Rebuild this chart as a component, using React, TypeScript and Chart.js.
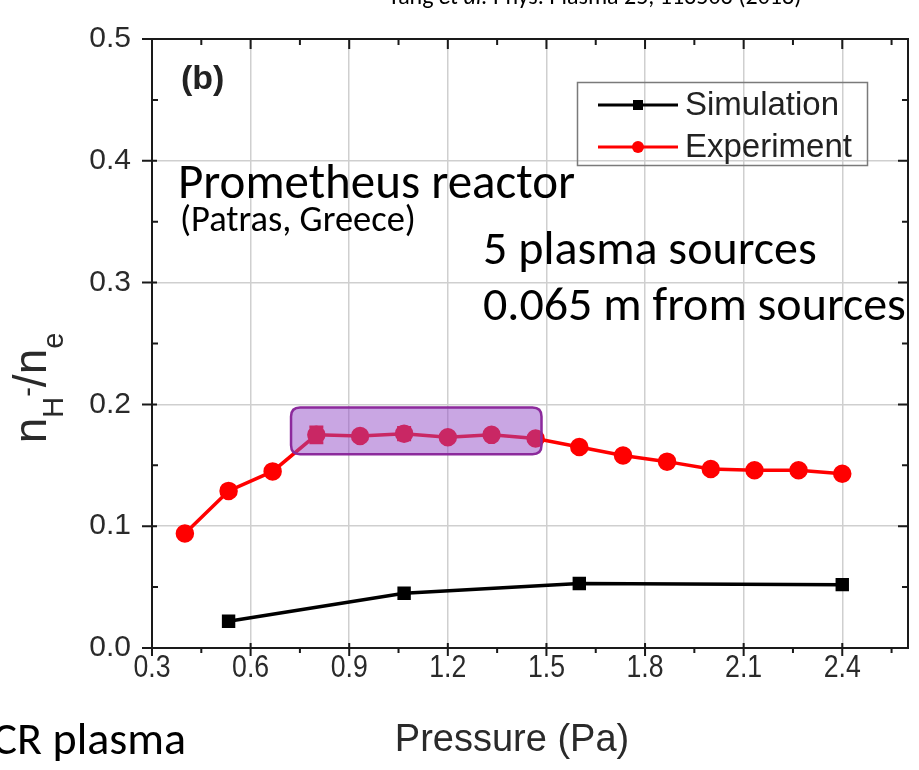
import React, { useEffect, useRef } from "react";
import { Chart, registerables } from "chart.js";

Chart.register(...registerables);

// Pressure (Pa) and n_H-/n_e values
const simPressure = [0.533, 1.067, 1.6, 2.4];
const simRatio = [0.022, 0.045, 0.053, 0.052];

const expPressure = [0.4, 0.533, 0.667, 0.8, 0.933, 1.067, 1.2, 1.333, 1.467, 1.6, 1.733, 1.867, 2.0, 2.133, 2.267, 2.4];
const expRatio = [0.094, 0.129, 0.145, 0.175, 0.174, 0.176, 0.173, 0.175, 0.172, 0.165, 0.158, 0.153, 0.147, 0.146, 0.146, 0.143];
const expError = [0, 0, 0, 0.0065, 0, 0.005, 0, 0, 0, 0, 0, 0, 0, 0, 0, 0];

const xTicks = [0.3, 0.6, 0.9, 1.2, 1.5, 1.8, 2.1, 2.4];
const yTicks = [0, 0.1, 0.2, 0.3, 0.4, 0.5];

// plateau region highlighted on the experiment curve
const highlightX = [0.723, 1.485];
const highlightY = [0.159, 0.1975];

const AX_FONT = "'Liberation Sans', Arial, sans-serif";
const NOTE_FONT = "Carlito, Lato, 'Open Sans', sans-serif";

function roundRect(ctx: CanvasRenderingContext2D, x: number, y: number, w: number, h: number, r: number) {
  ctx.beginPath();
  ctx.moveTo(x + r, y);
  ctx.lineTo(x + w - r, y);
  ctx.quadraticCurveTo(x + w, y, x + w, y + r);
  ctx.lineTo(x + w, y + h - r);
  ctx.quadraticCurveTo(x + w, y + h, x + w - r, y + h);
  ctx.lineTo(x + r, y + h);
  ctx.quadraticCurveTo(x, y + h, x, y + h - r);
  ctx.lineTo(x, y + r);
  ctx.quadraticCurveTo(x, y, x + r, y);
  ctx.closePath();
}

const framePlugin = {
  id: "frameAndDecor",
  beforeDraw(chart: any) {
    // the plotted figure is a soft raster; notes on top stay sharp
    chart.ctx.filter = "blur(0.6px)";
  },
  afterDatasetsDraw(chart: any) {
    const ctx: CanvasRenderingContext2D = chart.ctx;
    const xs = chart.scales.x;
    const ys = chart.scales.y;
    const { left, right, top, bottom } = chart.chartArea;

    // error bars on experiment points
    ctx.save();
    ctx.strokeStyle = "#ff0000";
    ctx.lineWidth = 3;
    expPressure.forEach((p, i) => {
      const e = expError[i];
      if (!e) return;
      const px = xs.getPixelForValue(p);
      const y1 = ys.getPixelForValue(expRatio[i] + e);
      const y2 = ys.getPixelForValue(expRatio[i] - e);
      ctx.beginPath();
      ctx.moveTo(px, y1);
      ctx.lineTo(px, y2);
      ctx.moveTo(px - 7, y1);
      ctx.lineTo(px + 7, y1);
      ctx.moveTo(px - 7, y2);
      ctx.lineTo(px + 7, y2);
      ctx.stroke();
    });
    ctx.restore();

    // frame
    ctx.save();
    ctx.strokeStyle = "#1a1a1a";
    ctx.lineWidth = 2;
    ctx.strokeRect(left, top, right - left, bottom - top);

    // ticks
    ctx.beginPath();
    for (let v = 0.3; v <= 2.6 + 1e-6; v += 0.15) {
      const px = xs.getPixelForValue(v);
      const major = Math.abs(((v - 0.3) / 0.3) - Math.round((v - 0.3) / 0.3)) < 1e-6;
      if (major) {
        ctx.moveTo(px, bottom - 5);
        ctx.lineTo(px, bottom + 8);
        ctx.moveTo(px, top);
        ctx.lineTo(px, top + 10);
      } else {
        ctx.moveTo(px, bottom);
        ctx.lineTo(px, bottom + 5);
        ctx.moveTo(px, top);
        ctx.lineTo(px, top + 6);
      }
    }
    for (let v = 0; v <= 0.5 + 1e-6; v += 0.05) {
      const py = ys.getPixelForValue(v);
      const major = Math.abs(v * 10 - Math.round(v * 10)) < 1e-6;
      if (major) {
        ctx.moveTo(left - 10, py);
        ctx.lineTo(left + 5, py);
        ctx.moveTo(right - 10, py);
        ctx.lineTo(right, py);
      } else {
        ctx.moveTo(left, py);
        ctx.lineTo(left + 6, py);
        ctx.moveTo(right - 6, py);
        ctx.lineTo(right, py);
      }
    }
    ctx.stroke();
    ctx.restore();
  },
  afterDraw(chart: any) {
    const ctx: CanvasRenderingContext2D = chart.ctx;
    const ds = chart.data.datasets;
    const xs = chart.scales.x;
    const ys = chart.scales.y;

    // x tick labels in a condensed face
    ctx.save();
    ctx.fillStyle = "#2a2a2a";
    ctx.font = `31px ${AX_FONT}`;
    ctx.textAlign = "center";
    ctx.textBaseline = "middle";
    xs.ticks.forEach((t: any) => {
      const px = xs.getPixelForValue(t.value);
      ctx.save();
      ctx.translate(px, 668);
      ctx.scale(0.86, 1);
      ctx.fillText(Number(t.value).toFixed(1), 0, 0);
      ctx.restore();
    });
    ctx.restore();

    // axis titles
    ctx.save();
    ctx.fillStyle = "#2a2a2a";
    ctx.textBaseline = "alphabetic";
    ctx.textAlign = "center";
    ctx.font = `38px ${AX_FONT}`;
    ctx.fillText("Pressure (Pa)", 512, 751);

    // y title: n_H^- / n_e
    ctx.translate(46, 388);
    ctx.rotate(-Math.PI / 2);
    ctx.textAlign = "left";
    const pieces: [string, number, number][] = [
      ["n", 46, 0],
      ["H", 29, 17],
      ["-", 29, -9],
      ["/", 46, 0],
      ["n", 46, 0],
      ["e", 29, 17],
    ];
    let total = 0;
    pieces.forEach(([t, s]) => {
      ctx.font = `${s}px ${AX_FONT}`;
      total += ctx.measureText(t).width;
    });
    let cx = -total / 2;
    pieces.forEach(([t, s, dy]) => {
      ctx.font = `${s}px ${AX_FONT}`;
      ctx.fillText(t, cx, dy);
      cx += ctx.measureText(t).width;
    });
    ctx.restore();

    // panel tag
    ctx.save();
    ctx.fillStyle = "#222";
    ctx.font = `bold 34px ${AX_FONT}`;
    ctx.fillText("(b)", 181, 89);
    ctx.restore();

    // legend
    ctx.save();
    ctx.strokeStyle = "#7a7a7a";
    ctx.lineWidth = 1.5;
    ctx.strokeRect(577.5, 82.5, 290, 83);
    const rows = [105, 147];
    ds.forEach((d: any, i: number) => {
      const y = rows[i];
      ctx.strokeStyle = d.borderColor;
      ctx.lineWidth = 3;
      ctx.beginPath();
      ctx.moveTo(598, y);
      ctx.lineTo(678, y);
      ctx.stroke();
      ctx.fillStyle = d.backgroundColor;
      if (d.pointStyle === "rect") {
        ctx.fillRect(638 - 5, y - 5, 10, 10);
      } else {
        ctx.beginPath();
        ctx.arc(638, y, 6, 0, Math.PI * 2);
        ctx.fill();
      }
      ctx.fillStyle = "#222";
      ctx.font = `33px ${AX_FONT}`;
      ctx.textBaseline = "middle";
      ctx.fillText(d.label, 685, y + 1);
    });
    ctx.restore();

    // sharp overlay: highlight box and notes
    ctx.save();
    ctx.filter = "none";
    const hx1 = xs.getPixelForValue(highlightX[0]);
    const hx2 = xs.getPixelForValue(highlightX[1]);
    const hy1 = ys.getPixelForValue(highlightY[1]);
    const hy2 = ys.getPixelForValue(highlightY[0]);
    roundRect(ctx, hx1, hy1, hx2 - hx1, hy2 - hy1, 9);
    ctx.fillStyle = "rgba(147, 77, 199, 0.5)";
    ctx.fill();
    ctx.strokeStyle = "#8c2a9c";
    ctx.lineWidth = 2.5;
    ctx.stroke();

    ctx.fillStyle = "#000";
    ctx.textBaseline = "alphabetic";
    ctx.font = `49px ${NOTE_FONT}`;
    ctx.fillText("Prometheus reactor", 178, 198);
    ctx.font = `36.5px ${NOTE_FONT}`;
    ctx.fillText("(Patras, Greece)", 180, 231);
    ctx.font = `48px ${NOTE_FONT}`;
    ctx.fillText("5 plasma sources", 483, 264);
    ctx.fillText("0.065 m from sources", 483, 320);
    ctx.font = `46px ${NOTE_FONT}`;
    ctx.textAlign = "right";
    ctx.fillText("ECR plasma", 186, 754);

    // citation line along the top edge
    ctx.textAlign = "left";
    let tx = 388;
    const cite: [string, boolean][] = [
      ["Yang ", false],
      ["et al.", true],
      [" Phys. Plasma 25, 113503 (2018)", false],
    ];
    cite.forEach(([t, it]) => {
      ctx.font = `${it ? "italic " : ""}24px ${NOTE_FONT}`;
      ctx.fillText(t, tx, 4);
      tx += ctx.measureText(t).width;
    });
    ctx.restore();
  },
};

export default function App() {
  const ref = useRef<HTMLCanvasElement | null>(null);

  useEffect(() => {
    const canvas = ref.current;
    if (!canvas) return;
    const chart = new Chart(canvas, {
      type: "line",
      data: {
        datasets: [
          {
            label: "Simulation",
            data: simPressure.map((x, i) => ({ x, y: simRatio[i] })),
            borderColor: "#000000",
            backgroundColor: "#000000",
            pointStyle: "rect",
            pointRadius: 7,
            borderWidth: 3.5,
            tension: 0,
          },
          {
            label: "Experiment",
            data: expPressure.map((x, i) => ({ x, y: expRatio[i] })),
            borderColor: "#ff0000",
            backgroundColor: "#ff0000",
            pointStyle: "circle",
            pointRadius: 7.5,
            borderWidth: 3.5,
            tension: 0,
          },
        ],
      },
      options: {
        animation: false,
        responsive: false,
        devicePixelRatio: 1,
        layout: { padding: { top: 28, right: 2, left: 0, bottom: 0 } },
        plugins: { legend: { display: false }, tooltip: { enabled: false } },
        scales: {
          x: {
            type: "linear",
            min: 0.3,
            max: 2.6,
            afterBuildTicks: (s: any) => {
              s.ticks = xTicks.map((v) => ({ value: v }));
            },
            afterFit: (s: any) => {
              s.height = 122;
            },
            ticks: { display: false, autoSkip: false },
            grid: { color: "#cfcfcf", lineWidth: 1.5, drawTicks: false },
            border: { display: false },
          },
          y: {
            type: "linear",
            min: 0,
            max: 0.5,
            afterBuildTicks: (s: any) => {
              s.ticks = yTicks.map((v) => ({ value: v }));
            },
            afterFit: (s: any) => {
              s.width = 152;
            },
            ticks: {
              callback: (v: any) => Number(v).toFixed(1),
              font: { family: AX_FONT, size: 30 },
              color: "#2a2a2a",
              padding: 21,
              autoSkip: false,
            },
            grid: { color: "#cfcfcf", lineWidth: 1.5, drawTicks: false },
            border: { display: false },
          },
        },
      },
      plugins: [framePlugin],
    });
    return () => chart.destroy();
  }, []);

  return (
    <div style={{ position: "fixed", left: 0, top: 0, width: 919, height: 770, background: "#fff" }}>
      <canvas ref={ref} width={919} height={770} style={{ display: "block", width: 919, height: 770 }} />
    </div>
  );
}
